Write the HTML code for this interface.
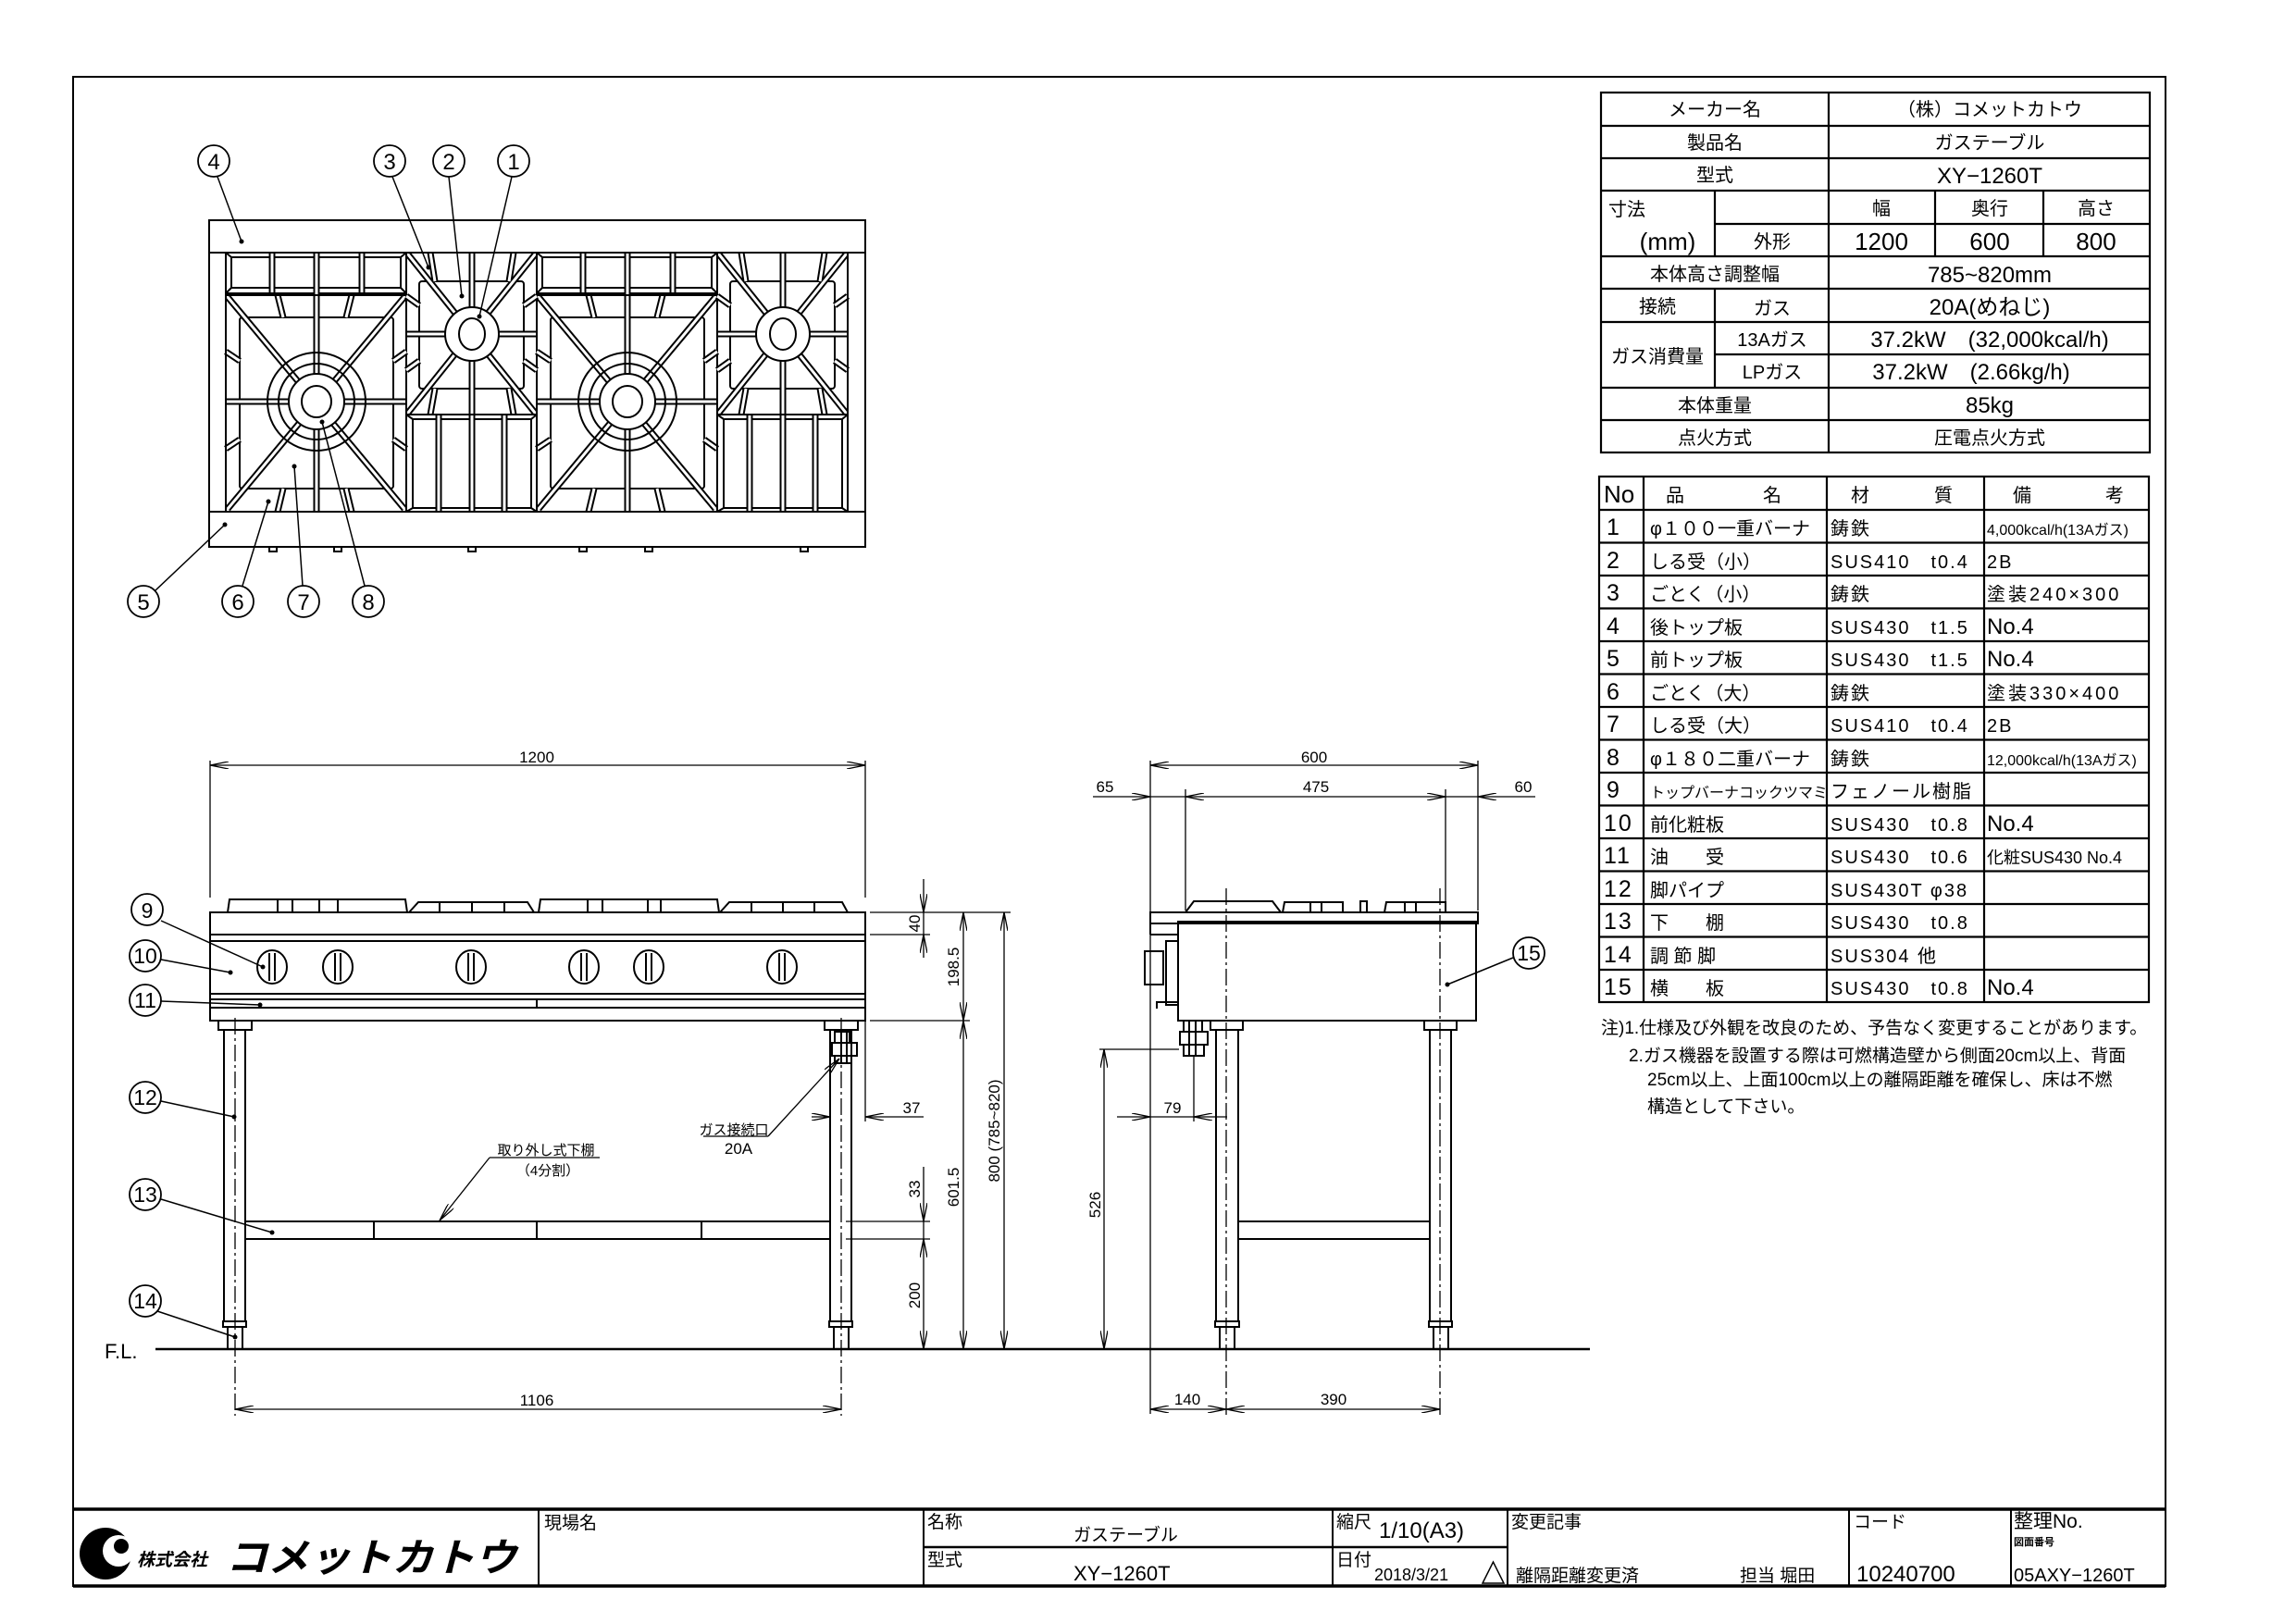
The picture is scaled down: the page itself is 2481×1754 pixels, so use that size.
<!DOCTYPE html>
<html><head><meta charset="utf-8"><style>
html,body{margin:0;padding:0;background:#fff;}
svg{display:block;}
text{font-family:"Liberation Sans","Noto Sans CJK JP",sans-serif;fill:#000;}
</style></head><body>
<svg width="2481" height="1754" viewBox="0 0 2481 1754" xmlns="http://www.w3.org/2000/svg">
<rect width="2481" height="1754" fill="#fff"/>
<g fill="none" stroke="#000" stroke-width="2">
<!-- outer border -->
<rect x="79" y="83" width="2261" height="1631"/>
</g>

<!-- ========== TABLE 1 ========== -->
<g stroke="#000" stroke-width="2.2" fill="none">
<rect x="1730" y="100" width="593" height="389"/>
<line x1="1730" y1="136" x2="2323" y2="136"/>
<line x1="1730" y1="171" x2="2323" y2="171"/>
<line x1="1730" y1="206" x2="2323" y2="206"/>
<line x1="1853" y1="242" x2="2323" y2="242"/>
<line x1="1730" y1="277" x2="2323" y2="277"/>
<line x1="1730" y1="312" x2="2323" y2="312"/>
<line x1="1730" y1="348" x2="2323" y2="348"/>
<line x1="1853" y1="383" x2="2323" y2="383"/>
<line x1="1730" y1="419" x2="2323" y2="419"/>
<line x1="1730" y1="454" x2="2323" y2="454"/>
<line x1="1976" y1="100" x2="1976" y2="489"/>
<line x1="1853" y1="206" x2="1853" y2="277"/>
<line x1="1853" y1="312" x2="1853" y2="419"/>
<line x1="2091" y1="206" x2="2091" y2="277"/>
<line x1="2208" y1="206" x2="2208" y2="277"/>
</g>
<g font-size="20" text-anchor="middle">
<text x="1853" y="125">メーカー名</text>
<text x="2150" y="125">（株）コメットカトウ</text>
<text x="1853" y="161">製品名</text>
<text x="2150" y="161">ガステーブル</text>
<text x="1853" y="196">型式</text>
<text x="2150" y="198" font-size="24">XY−1260T</text>
<text x="1758" y="233">寸法</text>
<text x="1802" y="270" font-size="26">(mm)</text>
<text x="1915" y="268">外形</text>
<text x="2033" y="232">幅</text>
<text x="2150" y="232">奥行</text>
<text x="2265" y="232">高さ</text>
<text x="2033" y="270" font-size="26">1200</text>
<text x="2150" y="270" font-size="26">600</text>
<text x="2265" y="270" font-size="26">800</text>
<text x="1853" y="303">本体高さ調整幅</text>
<text x="2150" y="305" font-size="24">785~820mm</text>
<text x="1791" y="338">接続</text>
<text x="1915" y="340">ガス</text>
<text x="2150" y="340" font-size="24">20A(めねじ)</text>
<text x="1791" y="392">ガス消費量</text>
<text x="1915" y="374">13Aガス</text>
<text x="1915" y="409">LPガス</text>
<text x="2150" y="375" font-size="24">37.2kW　(32,000kcal/h)</text>
<text x="2130" y="410" font-size="24">37.2kW　(2.66kg/h)</text>
<text x="1853" y="445">本体重量</text>
<text x="2150" y="446" font-size="24">85kg</text>
<text x="1853" y="480">点火方式</text>
<text x="2150" y="480">圧電点火方式</text>
</g>

<!-- ========== TABLE 2 ========== -->
<g stroke="#000" stroke-width="2.2" fill="none">
<rect x="1728" y="515" width="594" height="568"/>
<line x1="1776" y1="515" x2="1776" y2="1083"/>
<line x1="1974" y1="515" x2="1974" y2="1083"/>
<line x1="2144" y1="515" x2="2144" y2="1083"/>
<line x1="1728" y1="551" x2="2322" y2="551"/>
<line x1="1728" y1="586.5" x2="2322" y2="586.5"/>
<line x1="1728" y1="622" x2="2322" y2="622"/>
<line x1="1728" y1="657.5" x2="2322" y2="657.5"/>
<line x1="1728" y1="693" x2="2322" y2="693"/>
<line x1="1728" y1="728.5" x2="2322" y2="728.5"/>
<line x1="1728" y1="764" x2="2322" y2="764"/>
<line x1="1728" y1="799.5" x2="2322" y2="799.5"/>
<line x1="1728" y1="835" x2="2322" y2="835"/>
<line x1="1728" y1="870.5" x2="2322" y2="870.5"/>
<line x1="1728" y1="906" x2="2322" y2="906"/>
<line x1="1728" y1="941.5" x2="2322" y2="941.5"/>
<line x1="1728" y1="977" x2="2322" y2="977"/>
<line x1="1728" y1="1012.5" x2="2322" y2="1012.5"/>
<line x1="1728" y1="1048" x2="2322" y2="1048"/>
</g>
<g font-size="20">
<text x="1733" y="543" font-size="26">No</text>
<text x="1800" y="542">品</text><text x="1905" y="542">名</text>
<text x="2000" y="542">材</text><text x="2090" y="542">質</text>
<text x="2175" y="542">備</text><text x="2275" y="542">考</text>
<g font-size="25">
<text x="1736" y="578">1</text><text x="1736" y="614">2</text><text x="1736" y="649">3</text>
<text x="1736" y="685">4</text><text x="1736" y="720">5</text><text x="1736" y="756">6</text>
<text x="1736" y="791">7</text><text x="1736" y="827">8</text><text x="1736" y="862">9</text>
<text x="1733" y="898" letter-spacing="2">10</text><text x="1733" y="933" letter-spacing="2">11</text>
<text x="1733" y="969" letter-spacing="2">12</text><text x="1733" y="1004" letter-spacing="2">13</text>
<text x="1733" y="1040" letter-spacing="2">14</text><text x="1733" y="1075" letter-spacing="2">15</text>
</g>
<text x="1783" y="578">φ１００一重バーナ</text>
<text x="1783" y="614">しる受（小）</text>
<text x="1783" y="649">ごとく（小）</text>
<text x="1783" y="685">後トップ板</text>
<text x="1783" y="720">前トップ板</text>
<text x="1783" y="756">ごとく（大）</text>
<text x="1783" y="791">しる受（大）</text>
<text x="1783" y="827">φ１８０二重バーナ</text>
<text x="1783" y="862" font-size="16">トップバーナコックツマミ</text>
<text x="1783" y="898">前化粧板</text>
<text x="1783" y="933">油　　受</text>
<text x="1783" y="969">脚パイプ</text>
<text x="1783" y="1004">下　　棚</text>
<text x="1783" y="1040">調 節 脚</text>
<text x="1783" y="1075">横　　板</text>
<g letter-spacing="2">
<text x="1978" y="578">鋳鉄</text>
<text x="1978" y="614">SUS410　t0.4</text>
<text x="1978" y="649">鋳鉄</text>
<text x="1978" y="685">SUS430　t1.5</text>
<text x="1978" y="720">SUS430　t1.5</text>
<text x="1978" y="756">鋳鉄</text>
<text x="1978" y="791">SUS410　t0.4</text>
<text x="1978" y="827">鋳鉄</text>
<text x="1978" y="862">フェノール樹脂</text>
<text x="1978" y="898">SUS430　t0.8</text>
<text x="1978" y="933">SUS430　t0.6</text>
<text x="1978" y="969">SUS430T φ38</text>
<text x="1978" y="1004">SUS430　t0.8</text>
<text x="1978" y="1040">SUS304 他</text>
<text x="1978" y="1075">SUS430　t0.8</text>
</g>
<text x="2147" y="578" font-size="16">4,000kcal/h(13Aガス)</text>
<text x="2147" y="614" letter-spacing="2">2B</text>
<text x="2147" y="649" letter-spacing="3">塗装240×300</text>
<text x="2147" y="685" font-size="24">No.4</text>
<text x="2147" y="720" font-size="24">No.4</text>
<text x="2147" y="756" letter-spacing="3">塗装330×400</text>
<text x="2147" y="791" letter-spacing="2">2B</text>
<text x="2147" y="827" font-size="16">12,000kcal/h(13Aガス)</text>
<text x="2147" y="898" font-size="24">No.4</text>
<text x="2147" y="933" font-size="18">化粧SUS430 No.4</text>
<text x="2147" y="1075" font-size="24">No.4</text>
</g>
<g font-size="19">
<text x="1730" y="1117">注)1.仕様及び外観を改良のため、予告なく変更することがあります。</text>
<text x="1760" y="1147">2.ガス機器を設置する際は可燃構造壁から側面20cm以上、背面</text>
<text x="1780" y="1173">25cm以上、上面100cm以上の離隔距離を確保し、床は不燃</text>
<text x="1780" y="1202">構造として下さい。</text>
</g>

<!-- ========== TITLE BLOCK ========== -->
<g stroke="#000" fill="none">
<line x1="79" y1="1631" x2="2340" y2="1631" stroke-width="3.5"/>
<line x1="79" y1="1714" x2="2340" y2="1714" stroke-width="3.5"/>
<line x1="998" y1="1672" x2="1629" y2="1672" stroke-width="2.5"/>
<g stroke-width="2">
<line x1="582" y1="1631" x2="582" y2="1714"/>
<line x1="998" y1="1631" x2="998" y2="1714"/>
<line x1="1440" y1="1631" x2="1440" y2="1714"/>
<line x1="1629" y1="1631" x2="1629" y2="1714"/>
<line x1="1998" y1="1631" x2="1998" y2="1714"/>
<line x1="2173" y1="1631" x2="2173" y2="1714"/>
</g>
<polygon points="1602,1711 1625,1711 1613.5,1688" stroke-width="1.5"/>
</g>
<circle cx="114" cy="1679" r="28" fill="#000"/>
<circle cx="128" cy="1676" r="17" fill="#fff"/>
<circle cx="131" cy="1671" r="8" fill="#000"/>
<text x="148" y="1692" font-size="19" font-weight="bold" font-style="italic">株式会社</text>
<text x="244" y="1698" font-size="42" font-weight="bold" font-style="italic" textLength="314" lengthAdjust="spacingAndGlyphs">コメットカトウ</text>
<g font-size="19">
<text x="588" y="1652">現場名</text>
<text x="1002" y="1651">名称</text>
<text x="1160" y="1665">ガステーブル</text>
<text x="1002" y="1692">型式</text>
<text x="1160" y="1708" font-size="22">XY−1260T</text>
<text x="1444" y="1651">縮尺</text>
<text x="1490" y="1662" font-size="24">1/10(A3)</text>
<text x="1444" y="1692">日付</text>
<text x="1485" y="1708" font-size="18">2018/3/21</text>
<text x="1633" y="1651">変更記事</text>
<text x="1638" y="1709">離隔距離変更済</text>
<text x="1880" y="1709">担当 堀田</text>
<text x="2003" y="1651">コード</text>
<text x="2006" y="1709" font-size="24">10240700</text>
<text x="2176" y="1651" font-size="21">整理No.</text>
<text x="2176" y="1670" font-size="11" font-weight="bold">図面番号</text>
<text x="2176" y="1709" font-size="20">05AXY−1260T</text>
</g>

<!-- ========== TOP VIEW ========== -->
<g stroke="#000" stroke-width="2" fill="none">
<rect x="226" y="238" width="709" height="353"/>
<line x1="226" y1="273" x2="935" y2="273"/>
<line x1="226" y1="553" x2="935" y2="553"/>
<line x1="244" y1="273" x2="244" y2="553"/>
<line x1="439" y1="273" x2="439" y2="553"/>
<line x1="580" y1="273" x2="580" y2="553"/>
<line x1="775" y1="273" x2="775" y2="553"/>
<line x1="916" y1="273" x2="916" y2="553"/>
<!-- feet -->
<rect x="291" y="591" width="8" height="5"/><rect x="361" y="591" width="8" height="5"/>
<rect x="506" y="591" width="8" height="5"/><rect x="626" y="591" width="8" height="5"/>
<rect x="697" y="591" width="8" height="5"/><rect x="865" y="591" width="8" height="5"/>
</g>
<!-- grate bars helper: black thick + white thin -->
<g id="largeA">
<g stroke="#000" stroke-width="2" fill="none">
<rect x="244" y="273" width="195" height="44"/>
<rect x="250" y="278" width="183" height="33"/>
<line x1="244" y1="273" x2="250" y2="278"/><line x1="439" y1="273" x2="433" y2="278"/>
<line x1="244" y1="317" x2="250" y2="311"/><line x1="439" y1="317" x2="433" y2="311"/>
<rect x="259" y="343" width="166" height="185" rx="3"/>
</g>
<g stroke="#000" stroke-width="7" stroke-linecap="butt">
<line x1="294" y1="273" x2="294" y2="317"/><line x1="391" y1="273" x2="391" y2="317"/>
<line x1="342" y1="273" x2="342" y2="553"/>
<line x1="244" y1="434" x2="439" y2="434"/>
<line x1="246" y1="321" x2="437" y2="550"/>
<line x1="437" y1="321" x2="246" y2="550"/>
<line x1="300" y1="319" x2="306" y2="343"/><line x1="380" y1="319" x2="374" y2="343"/>
<line x1="300" y1="553" x2="306" y2="528"/><line x1="380" y1="553" x2="374" y2="528"/>
<line x1="244" y1="380" x2="259" y2="390"/><line x1="439" y1="380" x2="425" y2="390"/>
<line x1="244" y1="485" x2="259" y2="475"/><line x1="439" y1="485" x2="425" y2="475"/>
</g>
<g stroke="#fff" stroke-width="3">
<line x1="294" y1="274" x2="294" y2="316"/><line x1="391" y1="274" x2="391" y2="316"/>
<line x1="342" y1="274" x2="342" y2="552"/>
<line x1="245" y1="434" x2="438" y2="434"/>
<line x1="246" y1="321" x2="437" y2="550"/>
<line x1="437" y1="321" x2="246" y2="550"/>
<line x1="300" y1="319" x2="306" y2="343"/><line x1="380" y1="319" x2="374" y2="343"/>
<line x1="300" y1="553" x2="306" y2="528"/><line x1="380" y1="553" x2="374" y2="528"/>
<line x1="244" y1="380" x2="259" y2="390"/><line x1="439" y1="380" x2="425" y2="390"/>
<line x1="244" y1="485" x2="259" y2="475"/><line x1="439" y1="485" x2="425" y2="475"/>
</g>
<g stroke="#000" stroke-width="2" fill="none">
<line x1="244" y1="319" x2="439" y2="319"/>
<circle cx="342" cy="434" r="53"/>
<circle cx="342" cy="434" r="41"/>
<circle cx="342" cy="434" r="30" fill="#fff"/>
<ellipse cx="342" cy="434" rx="16" ry="17"/>
</g>
</g>
<use href="#largeA" transform="translate(336,0)"/>
<g id="smallA">
<g stroke="#000" stroke-width="2" fill="none">
<rect x="453" y="304" width="113" height="116" rx="3"/>
<rect x="439" y="448" width="141" height="105"/>
<rect x="446" y="453" width="128" height="96"/>
<line x1="439" y1="448" x2="446" y2="453"/><line x1="580" y1="448" x2="574" y2="453"/>
<line x1="439" y1="553" x2="446" y2="549"/><line x1="580" y1="553" x2="574" y2="549"/>
</g>
<g stroke="#000" stroke-width="7">
<line x1="510" y1="273" x2="510" y2="553"/>
<line x1="474" y1="448" x2="474" y2="553"/><line x1="545" y1="448" x2="545" y2="553"/>
<line x1="439" y1="361" x2="580" y2="361"/>
<line x1="441" y1="275" x2="578" y2="446"/>
<line x1="578" y1="275" x2="441" y2="446"/>
<line x1="465" y1="273" x2="470" y2="304"/><line x1="555" y1="273" x2="550" y2="304"/>
<line x1="465" y1="448" x2="470" y2="420"/><line x1="555" y1="448" x2="550" y2="420"/>
<line x1="439" y1="320" x2="453" y2="330"/><line x1="580" y1="320" x2="566" y2="330"/>
<line x1="439" y1="400" x2="453" y2="390"/><line x1="580" y1="400" x2="566" y2="390"/>
</g>
<g stroke="#fff" stroke-width="3">
<line x1="510" y1="274" x2="510" y2="552"/>
<line x1="474" y1="449" x2="474" y2="552"/><line x1="545" y1="449" x2="545" y2="552"/>
<line x1="440" y1="361" x2="579" y2="361"/>
<line x1="441" y1="275" x2="578" y2="446"/>
<line x1="578" y1="275" x2="441" y2="446"/>
<line x1="465" y1="273" x2="470" y2="304"/><line x1="555" y1="273" x2="550" y2="304"/>
<line x1="465" y1="448" x2="470" y2="420"/><line x1="555" y1="448" x2="550" y2="420"/>
<line x1="439" y1="320" x2="453" y2="330"/><line x1="580" y1="320" x2="566" y2="330"/>
<line x1="439" y1="400" x2="453" y2="390"/><line x1="580" y1="400" x2="566" y2="390"/>
</g>
<g stroke="#000" stroke-width="2" fill="none">
<line x1="439" y1="448" x2="580" y2="448"/>
<circle cx="510" cy="361" r="29" fill="#fff"/>
<ellipse cx="510" cy="361" rx="14" ry="17"/>
</g>
</g>
<use href="#smallA" transform="translate(336,0)"/>
<g stroke="#000" stroke-width="2" fill="none">
<line x1="226" y1="273" x2="935" y2="273"/><line x1="226" y1="553" x2="935" y2="553"/>
<line x1="244" y1="273" x2="244" y2="553"/><line x1="916" y1="273" x2="916" y2="553"/>
</g>
<!-- top view balloons -->
<g stroke="#000" stroke-width="1.8" fill="#fff">
<circle cx="231" cy="174" r="17"/><circle cx="421" cy="174" r="17"/>
<circle cx="485" cy="174" r="17"/><circle cx="555" cy="174" r="17"/>
<circle cx="155" cy="650" r="17"/><circle cx="257" cy="650" r="17"/>
<circle cx="328" cy="650" r="17"/><circle cx="398" cy="650" r="17"/>
</g>
<g stroke="#000" stroke-width="1.5">
<line x1="235" y1="191" x2="261" y2="261"/><line x1="424" y1="191" x2="463" y2="289"/>
<line x1="485" y1="191" x2="499" y2="320"/><line x1="553" y1="191" x2="518" y2="342"/>
<line x1="168" y1="638" x2="243" y2="567"/><line x1="262" y1="633" x2="290" y2="542"/>
<line x1="327" y1="633" x2="318" y2="504"/><line x1="394" y1="633" x2="348" y2="456"/>
</g>
<g fill="#000">
<circle cx="261" cy="261" r="2.5"/><circle cx="463" cy="289" r="2.5"/><circle cx="499" cy="320" r="2.5"/>
<circle cx="518" cy="342" r="2.5"/><circle cx="243" cy="567" r="2.5"/><circle cx="290" cy="542" r="2.5"/>
<circle cx="318" cy="504" r="2.5"/><circle cx="348" cy="456" r="2.5"/>
</g>
<g font-size="24" text-anchor="middle">
<text x="231" y="183">4</text><text x="421" y="183">3</text><text x="485" y="183">2</text><text x="555" y="183">1</text>
<text x="155" y="659">5</text><text x="257" y="659">6</text><text x="328" y="659">7</text><text x="398" y="659">8</text>
</g>

<!-- ========== FRONT VIEW ========== -->
<g stroke="#000" stroke-width="2" fill="none">
<!-- burner tops -->
<polygon points="246,986 248,972 438,972 440,986"/>
<polygon points="442,986 452,975 570,975 577,986"/>
<polygon points="582,986 584,972 775,972 777,986"/>
<polygon points="778,986 788,975 910,975 916,986"/>
<line x1="300" y1="972" x2="300" y2="986"/><line x1="316" y1="972" x2="316" y2="986"/>
<line x1="345" y1="972" x2="345" y2="986"/><line x1="365" y1="972" x2="365" y2="986"/>
<line x1="475" y1="975" x2="475" y2="986"/><line x1="510" y1="975" x2="510" y2="986"/><line x1="545" y1="975" x2="545" y2="986"/>
<line x1="635" y1="972" x2="635" y2="986"/><line x1="651" y1="972" x2="651" y2="986"/>
<line x1="700" y1="972" x2="700" y2="986"/><line x1="714" y1="972" x2="714" y2="986"/>
<line x1="812" y1="975" x2="812" y2="986"/><line x1="846" y1="975" x2="846" y2="986"/><line x1="880" y1="975" x2="880" y2="986"/>
<!-- body -->
<rect x="227" y="986" width="708" height="117"/>
<line x1="227" y1="1010" x2="935" y2="1010"/>
<line x1="227" y1="1017" x2="935" y2="1017"/>
<line x1="227" y1="1074" x2="935" y2="1074"/>
<line x1="227" y1="1080" x2="935" y2="1080"/>
<line x1="227" y1="1089" x2="935" y2="1089"/>
<line x1="580" y1="1080" x2="580" y2="1089"/>
<!-- knobs -->
<g>
<ellipse cx="294" cy="1045" rx="16" ry="18"/><line x1="291" y1="1030" x2="291" y2="1060"/><line x1="297" y1="1030" x2="297" y2="1060"/>
<ellipse cx="365" cy="1045" rx="16" ry="18"/><line x1="362" y1="1030" x2="362" y2="1060"/><line x1="368" y1="1030" x2="368" y2="1060"/>
<ellipse cx="509" cy="1045" rx="16" ry="18"/><line x1="506" y1="1030" x2="506" y2="1060"/><line x1="512" y1="1030" x2="512" y2="1060"/>
<ellipse cx="631" cy="1045" rx="16" ry="18"/><line x1="628" y1="1030" x2="628" y2="1060"/><line x1="634" y1="1030" x2="634" y2="1060"/>
<ellipse cx="701" cy="1045" rx="16" ry="18"/><line x1="698" y1="1030" x2="698" y2="1060"/><line x1="704" y1="1030" x2="704" y2="1060"/>
<ellipse cx="845" cy="1045" rx="16" ry="18"/><line x1="842" y1="1030" x2="842" y2="1060"/><line x1="848" y1="1030" x2="848" y2="1060"/>
</g>
<!-- legs -->
<rect x="236" y="1103" width="36" height="10"/>
<rect x="242" y="1113" width="23" height="315"/>
<rect x="241" y="1428" width="25" height="6"/>
<rect x="246" y="1434" width="16" height="24"/>
<rect x="891" y="1103" width="36" height="10"/>
<rect x="897" y="1113" width="23" height="315"/>
<rect x="896" y="1428" width="25" height="6"/>
<rect x="901" y="1434" width="16" height="24"/>
<!-- gas connector -->
<rect x="902" y="1115" width="16" height="12"/>
<rect x="899" y="1127" width="27" height="14"/>
<rect x="902" y="1141" width="18" height="8"/>
<line x1="909" y1="1115" x2="909" y2="1149"/><line x1="915" y1="1115" x2="915" y2="1149"/>
<!-- shelf -->
<rect x="265" y="1320" width="632" height="19"/>
<line x1="404" y1="1320" x2="404" y2="1339"/><line x1="580" y1="1320" x2="580" y2="1339"/><line x1="758" y1="1320" x2="758" y2="1339"/>
</g>
<!-- floor -->
<line x1="168" y1="1458" x2="1718" y2="1458" stroke="#000" stroke-width="2.5"/>
<text x="113" y="1468" font-size="22">F.L.</text>
<!-- centre lines -->
<g stroke="#000" stroke-width="1.3" stroke-dasharray="18,4,3,4">
<line x1="254" y1="1100" x2="254" y2="1530"/>
<line x1="909" y1="1100" x2="909" y2="1530"/>
<line x1="1325" y1="960" x2="1325" y2="1530"/>
<line x1="1556" y1="960" x2="1556" y2="1530"/>
</g>
<!-- dimension lines front -->
<defs>
<marker id="a" viewBox="0 0 20 8" refX="20" refY="4" markerWidth="20" markerHeight="8" markerUnits="userSpaceOnUse" orient="auto-start-reverse">
<path d="M0,0 L20,4 L0,8" fill="none" stroke="#000" stroke-width="1.3"/>
</marker>
</defs>
<g stroke="#000" stroke-width="1.3" fill="none">
<line x1="227" y1="822" x2="227" y2="970"/><line x1="935" y1="822" x2="935" y2="970"/>
<line x1="227" y1="827" x2="935" y2="827" marker-start="url(#a)" marker-end="url(#a)"/>
<line x1="254" y1="1523" x2="909" y2="1523" marker-start="url(#a)" marker-end="url(#a)"/>
<!-- horizontal ext lines right -->
<line x1="940" y1="986" x2="1092" y2="986"/>
<line x1="940" y1="1010" x2="1005" y2="1010"/>
<line x1="940" y1="1103" x2="1048" y2="1103"/>
<line x1="914" y1="1320" x2="1005" y2="1320"/>
<line x1="914" y1="1339" x2="1005" y2="1339"/>
<!-- 40 -->
<line x1="998" y1="950" x2="998" y2="986" marker-end="url(#a)"/>
<line x1="998" y1="1035" x2="998" y2="1010" marker-end="url(#a)"/>
<line x1="998" y1="986" x2="998" y2="1010"/>
<!-- 198.5 / 601.5 -->
<line x1="1041" y1="986" x2="1041" y2="1103" marker-start="url(#a)" marker-end="url(#a)"/>
<line x1="1041" y1="1103" x2="1041" y2="1458" marker-start="url(#a)" marker-end="url(#a)"/>
<!-- 800 -->
<line x1="1085" y1="986" x2="1085" y2="1458" marker-start="url(#a)" marker-end="url(#a)"/>
<!-- 33 -->
<line x1="998" y1="1261" x2="998" y2="1320" marker-end="url(#a)"/>
<line x1="998" y1="1339" x2="998" y2="1320"/>
<!-- 200 -->
<line x1="998" y1="1339" x2="998" y2="1458" marker-start="url(#a)" marker-end="url(#a)"/>
<!-- 37 -->
<line x1="935" y1="1091" x2="935" y2="1212"/>
<line x1="877" y1="1207" x2="897" y2="1207" marker-end="url(#a)"/>
<line x1="998" y1="1207" x2="935" y2="1207" marker-end="url(#a)"/>
<!-- gas leader -->
<line x1="760" y1="1228" x2="830" y2="1228"/>
<line x1="830" y1="1228" x2="907" y2="1144" marker-end="url(#a)"/>
<!-- shelf leader -->
<line x1="529" y1="1251" x2="648" y2="1251"/>
<line x1="529" y1="1251" x2="475" y2="1319" marker-end="url(#a)"/>
</g>
<g font-size="17" text-anchor="middle">
<text x="580" y="824">1200</text>
<text x="580" y="1519">1106</text>
<text x="985" y="1203">37</text>
<text x="793" y="1226" font-size="15">ガス接続口</text>
<text x="798" y="1247">20A</text>
<text x="590" y="1248" font-size="15">取り外し式下棚</text>
<text x="592" y="1270" font-size="15">（4分割）</text>
<text transform="translate(994,998) rotate(-90)">40</text>
<text transform="translate(1036,1045) rotate(-90)">198.5</text>
<text transform="translate(1036,1283) rotate(-90)">601.5</text>
<text transform="translate(1080,1222) rotate(-90)">800 (785~820)</text>
<text transform="translate(994,1285) rotate(-90)">33</text>
<text transform="translate(994,1400) rotate(-90)">200</text>
</g>
<!-- front balloons -->
<g stroke="#000" stroke-width="1.8" fill="#fff">
<circle cx="159" cy="983" r="17"/><circle cx="157" cy="1033" r="17"/><circle cx="157" cy="1081" r="17"/>
<circle cx="157" cy="1186" r="17"/><circle cx="157" cy="1291" r="17"/><circle cx="157" cy="1406" r="17"/>
<circle cx="1652" cy="1030" r="17"/>
</g>
<g stroke="#000" stroke-width="1.5">
<line x1="174" y1="995" x2="284" y2="1045"/><line x1="174" y1="1037" x2="249" y2="1051"/>
<line x1="174" y1="1082" x2="281" y2="1086"/><line x1="174" y1="1190" x2="253" y2="1207"/>
<line x1="174" y1="1296" x2="294" y2="1332"/><line x1="170" y1="1417" x2="254" y2="1445"/>
<line x1="1635" y1="1035" x2="1564" y2="1064"/>
</g>
<g fill="#000">
<circle cx="284" cy="1045" r="2.5"/><circle cx="249" cy="1051" r="2.5"/><circle cx="281" cy="1086" r="2.5"/>
<circle cx="253" cy="1207" r="2.5"/><circle cx="294" cy="1332" r="2.5"/><circle cx="254" cy="1445" r="2.5"/>
<circle cx="1564" cy="1064" r="2.5"/>
</g>
<g font-size="23" text-anchor="middle">
<text x="159" y="992">9</text><text x="157" y="1041">10</text><text x="157" y="1089">11</text>
<text x="157" y="1194">12</text><text x="157" y="1299">13</text><text x="157" y="1414">14</text>
<text x="1652" y="1038">15</text>
</g>

<!-- ========== SIDE VIEW ========== -->
<g stroke="#000" stroke-width="2" fill="none">
<polygon points="1281,986 1290,974 1375,974 1384,986"/>
<polygon points="1386,986 1388,975 1451,975 1451,986"/>
<polygon points="1496,986 1498,975 1562,975 1562,986"/>
<rect x="1470" y="974" width="7" height="12"/>
<line x1="1416" y1="975" x2="1416" y2="986"/><line x1="1428" y1="975" x2="1428" y2="986"/>
<line x1="1518" y1="975" x2="1518" y2="986"/><line x1="1530" y1="975" x2="1530" y2="986"/>
<rect x="1243" y="986" width="354" height="12"/>
<rect x="1273" y="996" width="322" height="107"/>
<line x1="1243" y1="998" x2="1243" y2="1010"/><line x1="1243" y1="1010" x2="1273" y2="1010"/>
<rect x="1237" y="1028" width="20" height="36"/>
<rect x="1260" y="1017" width="13" height="69"/>
<path d="M1250,1090 v-7 h22"/>
<!-- legs -->
<rect x="1308" y="1103" width="35" height="10"/>
<rect x="1314" y="1113" width="24" height="315"/>
<rect x="1313" y="1428" width="26" height="6"/>
<rect x="1318" y="1434" width="16" height="24"/>
<rect x="1539" y="1103" width="35" height="10"/>
<rect x="1545" y="1113" width="23" height="315"/>
<rect x="1544" y="1428" width="25" height="6"/>
<rect x="1549" y="1434" width="16" height="24"/>
<rect x="1338" y="1320" width="207" height="19"/>
<!-- gas fitting -->
<rect x="1279" y="1103" width="20" height="12"/>
<rect x="1275" y="1115" width="30" height="14"/>
<rect x="1279" y="1129" width="22" height="12"/>
<line x1="1285" y1="1103" x2="1285" y2="1141"/><line x1="1292" y1="1103" x2="1292" y2="1141"/>
</g>
<g stroke="#000" stroke-width="1.3" fill="none">
<line x1="1243" y1="822" x2="1243" y2="1528"/>
<line x1="1597" y1="822" x2="1597" y2="984"/>
<line x1="1281" y1="853" x2="1281" y2="984"/>
<line x1="1562" y1="853" x2="1562" y2="984"/>
<line x1="1243" y1="827" x2="1597" y2="827" marker-start="url(#a)" marker-end="url(#a)"/>
<line x1="1181" y1="861" x2="1243" y2="861" marker-end="url(#a)"/>
<line x1="1281" y1="861" x2="1562" y2="861" marker-start="url(#a)" marker-end="url(#a)"/>
<line x1="1243" y1="861" x2="1281" y2="861"/>
<line x1="1562" y1="861" x2="1597" y2="861"/>
<line x1="1659" y1="861" x2="1597" y2="861" marker-end="url(#a)"/>
<line x1="1188" y1="1134" x2="1274" y2="1134"/>
<line x1="1193" y1="1134" x2="1193" y2="1458" marker-start="url(#a)" marker-end="url(#a)"/>
<line x1="1290" y1="1140" x2="1290" y2="1212"/>
<line x1="1207" y1="1207" x2="1243" y2="1207" marker-end="url(#a)"/>
<line x1="1326" y1="1207" x2="1290" y2="1207" marker-end="url(#a)"/>
<line x1="1243" y1="1207" x2="1290" y2="1207"/>
<line x1="1243" y1="1523" x2="1325" y2="1523" marker-start="url(#a)" marker-end="url(#a)"/>
<line x1="1325" y1="1523" x2="1556" y2="1523" marker-start="url(#a)" marker-end="url(#a)"/>
</g>
<g font-size="17" text-anchor="middle">
<text x="1420" y="824">600</text>
<text x="1194" y="856">65</text>
<text x="1422" y="856">475</text>
<text x="1646" y="856">60</text>
<text x="1267" y="1203">79</text>
<text x="1283" y="1518">140</text>
<text x="1441" y="1518">390</text>
<text transform="translate(1189,1302) rotate(-90)">526</text>
</g>
</svg>
</body></html>
